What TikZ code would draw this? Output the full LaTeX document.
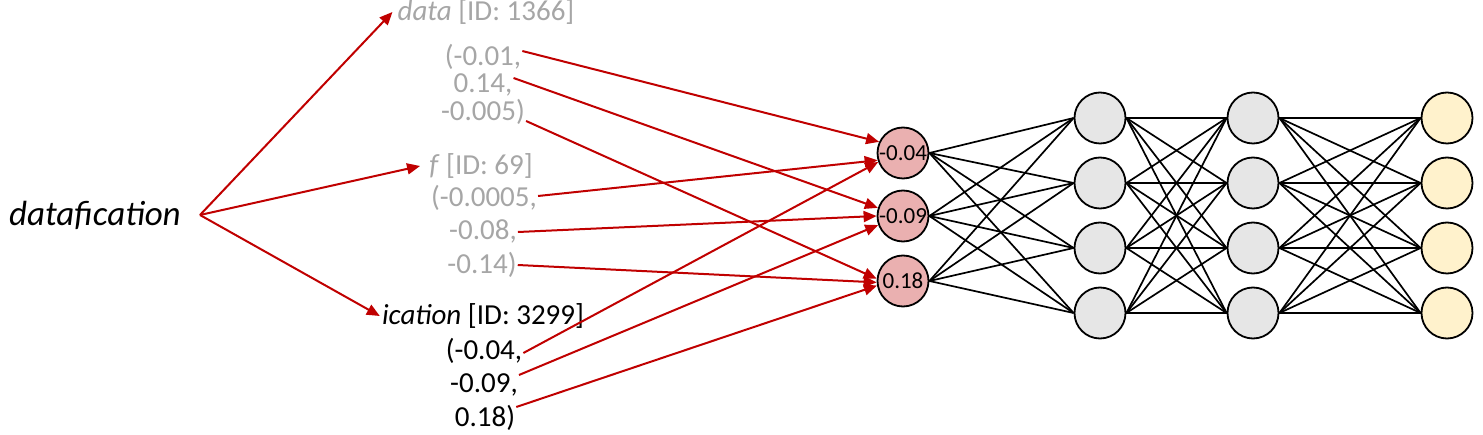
\documentclass[tikz,border=0pt]{standalone}
\usepackage{fontspec}
\setmainfont{Carlito}
\usetikzlibrary{arrows.meta}
\definecolor{myred}{HTML}{C00000}
\definecolor{txtgrey}{HTML}{A6A6A6}
\definecolor{inred}{HTML}{EAB0B0}
\definecolor{hidgrey}{HTML}{E6E6E6}
\definecolor{outyellow}{HTML}{FFF2CC}
\begin{document}
\begin{tikzpicture}[x=1pt,y=-1pt,
  neuron/.style={circle, draw=black, line width=1.8pt, minimum size=51pt, inner sep=0pt},
  inp/.style={neuron, fill=inred, font=\fontsize{23}{23}\selectfont},
  hid/.style={neuron, fill=hidgrey},
  outn/.style={neuron, fill=outyellow},
  conn/.style={line width=1.7pt, black},
  redarrow/.style={myred, line width=2pt, -{Triangle[length=13pt,width=11pt]}},
  greytxt/.style={text=txtgrey, font=\fontsize{29}{29}\selectfont, inner sep=1pt},
  blacktxt/.style={text=black, font=\fontsize{29}{29}\selectfont, inner sep=1pt}]
\useasboundingbox (0,0) rectangle (1483,435);

% word
\node[font=\fontsize{35}{35}\selectfont\itshape, inner sep=0pt, outer sep=0pt] (dt) at (95,215) {datafication};
\coordinate (src) at (200,215);

% token blocks
\node[greytxt] (d0) at (486,12) {\textit{data} [ID: 1366]};
\node[greytxt] (d1) at (483,57) {(-0.01,};
\node[greytxt] (d2) at (483,85) {0.14,};
\node[greytxt] (d3) at (483,112) {-0.005)};

\node[greytxt] (f0) at (481,166) {\textit{f} [ID: 69]};
\node[greytxt] (f1) at (484,198) {(-0.0005,};
\node[greytxt] (f2) at (483,231) {-0.08,};
\node[greytxt] (f3) at (482,265) {-0.14)};

\node[blacktxt] (c0) at (483,316) {\textit{ication} [ID: 3299]};
\node[blacktxt] (c1) at (484,351) {(-0.04,};
\node[blacktxt] (c2) at (484,385) {-0.09,};
\node[blacktxt] (c3) at (485,418) {0.18)};

% neurons
\node[inp] (i1) at (903,153) {-0.04};
\node[inp] (i2) at (903,216) {-0.09};
\node[inp] (i3) at (903,281) {0.18};
\foreach \k/\yy in {1/118,2/183,3/248,4/313}{
  \node[hid] (h\k) at (1100,\yy) {};
  \node[hid] (g\k) at (1253,\yy) {};
  \node[outn] (o\k) at (1447,\yy) {};
}

% network connections
\foreach \a in {1,2,3}{\foreach \b in {1,2,3,4}{\draw[conn] (i\a.east) -- (h\b.west);}}
\foreach \a in {1,2,3,4}{\foreach \b in {1,2,3,4}{
  \draw[conn] (h\a.east) -- (g\b.west);
  \draw[conn] (g\a.east) -- (o\b.west);}}

% tokenisation arrows
\draw[redarrow] (src) -- ([xshift=-4pt]d0.west);
\draw[redarrow] (src) -- ([xshift=-8pt]f0.west);
\draw[redarrow] (src) -- ([xshift=-1pt]c0.west);

% embedding arrows
\draw[redarrow] ([yshift=6pt]d1.east) -- (i1.155);
\draw[redarrow] ([yshift=7pt]d2.east) -- (i2.162);
\draw[redarrow] ([yshift=-9pt]d3.east) -- (i3.175);
\draw[redarrow] ([yshift=2pt]f1.east) -- (i1.196);
\draw[redarrow] ([yshift=-1pt]f2.east) -- (i2.180);
\draw[redarrow] (f3.east) -- (i3.183);
\draw[redarrow] ([yshift=-2pt]c1.east) -- (i1.200);
\draw[redarrow] ([yshift=10pt]c2.east) -- (i2.200);
\draw[redarrow] ([yshift=11pt]c3.east) -- (i3.190);
\end{tikzpicture}
\end{document}
